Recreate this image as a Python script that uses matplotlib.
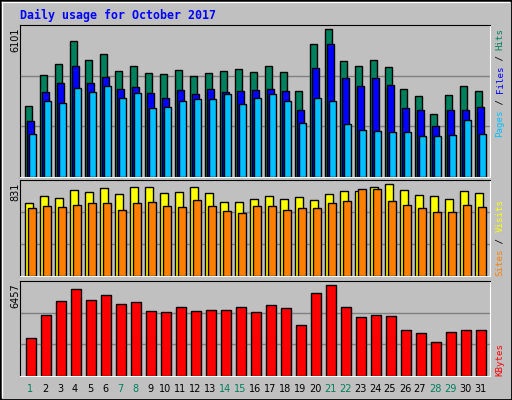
import matplotlib
matplotlib.use("Agg")
import matplotlib.pyplot as plt
import numpy as np

days = list(range(1, 32))
weekend = {1, 7, 8, 14, 15, 21, 22, 28, 29}

hits = [2953, 4223, 4651, 5603, 4816, 5065, 4361, 4568, 4278, 4237, 4402, 4154, 4278, 4361, 4444, 4319,
        4568, 4319, 3533, 5479, 6101, 4775, 4568, 4816, 4526, 3616, 3326, 2622, 3367, 3740, 3533]
files = [2332, 3491, 3864, 4568, 3864, 4112, 3616, 3698, 3450, 3243, 3574, 3409, 3616, 3491, 3533, 3574,
         3616, 3533, 2788, 4485, 5479, 4071, 3740, 4071, 3781, 2870, 2788, 2125, 2788, 2788, 2912]
pages = [1794, 3160, 3077, 3657, 3491, 3740, 3284, 3450, 2870, 2912, 3119, 3202, 3202, 3409, 2995, 3284,
         3409, 3119, 2249, 3284, 3119, 2208, 1960, 1918, 1877, 1877, 1711, 1711, 1753, 2374, 1794]
visits = [659, 723, 705, 777, 759, 795, 741, 804, 804, 750, 759, 804, 750, 668, 668, 696,
          723, 696, 714, 687, 741, 768, 768, 804, 831, 777, 732, 723, 696, 768, 750]
sites = [614, 632, 623, 641, 659, 659, 596, 659, 668, 632, 623, 687, 632, 587, 569, 632,
         632, 596, 614, 614, 659, 677, 786, 786, 677, 641, 614, 578, 578, 641, 623]
kbytes = [2710, 4337, 5326, 6175, 5397, 5751, 5114, 5256, 4619, 4549, 4902, 4619, 4690, 4690, 4902, 4549,
          5044, 4832, 3630, 5892, 6457, 4902, 4195, 4337, 4266, 3276, 3064, 2428, 3135, 3276, 3276]

W, H = 512, 400
BG = "#c0c0c0"
fig = plt.figure(figsize=(W / 100, H / 100), dpi=100, facecolor=BG)
MONO = "DejaVu Sans Mono"


def rect(x0, y0, x1, y1):
    return [x0 / W, 1 - y1 / H, (x1 - x0) / W, (y1 - y0) / H]


def fx(x):
    return x / W


def fy(y):
    return 1 - y / H


# outer 3D border
fig.add_artist(plt.Rectangle((0, 0), 1, 1, transform=fig.transFigure, fill=False, ec="black", lw=2))
fig.add_artist(plt.Line2D([fx(2), fx(509)], [fy(2), fy(2)], color="white", lw=1))
fig.add_artist(plt.Line2D([fx(2), fx(2)], [fy(2), fy(397)], color="white", lw=1))

x = np.arange(31)


def panel(y0, y1, top):
    ax = fig.add_axes(rect(20, y0, 490, y1))
    ax.set_facecolor(BG)
    ax.set_xlim(-0.333, 31.0)
    ax.set_ylim(0, top)
    for t in (top / 3, 2 * top / 3):
        ax.axhline(t, color="#808080", lw=1, zorder=0)
    ax.set_xticks([]); ax.set_yticks([])
    ax.spines["left"].set_color("black"); ax.spines["top"].set_color("black")
    ax.spines["right"].set_color("white"); ax.spines["bottom"].set_color("white")
    return ax


kw = dict(align="edge", edgecolor="black", linewidth=1, zorder=2)

ax1 = panel(25, 177, max(hits) * 6279 / 6101)
ax1.bar(x, hits, width=0.47, color="#00805c", **kw)
ax1.bar(x + 0.13, files, width=0.47, color="#0000ff", **kw)
ax1.bar(x + 0.27, pages, width=0.47, color="#00c0ff", **kw)

ax2 = panel(180, 276, max(visits) * 867 / 831)
ax2.bar(x, visits, width=0.53, color="#ffff00", **kw)
ax2.bar(x + 0.2, sites, width=0.53, color="#ff8000", **kw)

ax3 = panel(281, 376, max(kbytes) * 6711 / 6457)
ax3.bar(x + 0.07, kbytes, width=0.67, color="#ff0000", **kw)

# title
fig.text(fx(20), fy(15), "Daily usage for October 2017", color="#0000ff", family=MONO,
         fontweight="bold", fontsize=8.4, va="center", ha="left")

# max labels
for val, ytop in ((max(hits), 28), (max(visits), 183), (max(kbytes), 283)):
    fig.text(fx(15), fy(ytop), str(val), rotation=90, fontsize=7, va="top", ha="center", color="black")


def vlegend(parts, ybottom, step=5.45):
    y = ybottom
    for s, c in parts:
        fig.text(fx(500), fy(y), s, rotation=90, color=c, family=MONO, fontsize=6.6,
                 va="bottom", ha="center")
        y -= step * len(s)


vlegend([("Pages", "#00c0ff"), (" / ", "black"), ("Files", "#0000ff"), (" / ", "black"),
         ("Hits", "#00805c")], 137)
vlegend([("Sites", "#ff8000"), (" / ", "black"), ("Visits", "#ffff00")], 276)
vlegend([("KBytes", "#ff0000")], 376)

# day labels
for i, d in enumerate(days):
    fig.text(fx(25 + 15 * i + 5), fy(389), str(d), fontsize=7, ha="center", va="center",
             color="#00805c" if d in weekend else "black")

fig.savefig("out.png", dpi=100, facecolor=BG)
